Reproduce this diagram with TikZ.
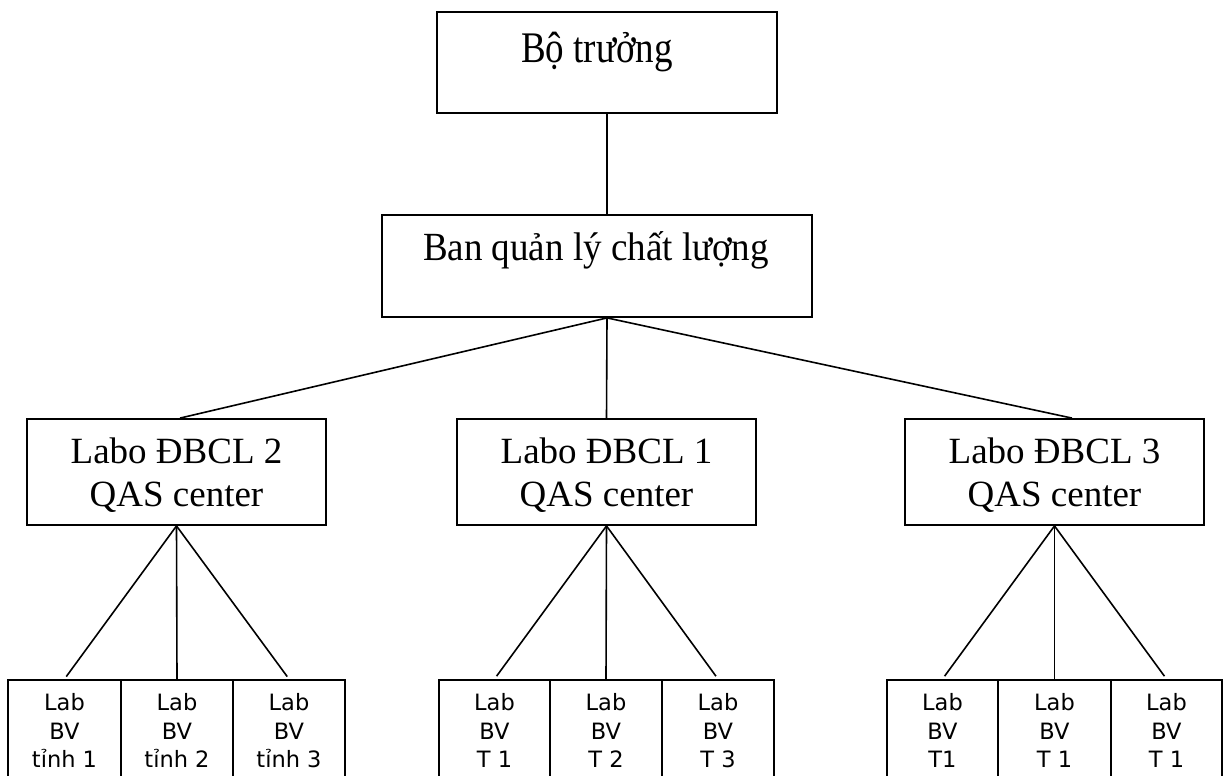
\documentclass[tikz,border=0pt]{standalone}
\usepackage{fontspec}
\usepackage{graphicx}
\setmainfont{Liberation Serif}
\newfontfamily\dvsans{DejaVu Sans}
\begin{document}
\begin{tikzpicture}[x=1pt,y=-1pt,
  line width=1.8pt,
  bigbox/.style={draw, line width=1.8pt, inner sep=0pt},
  smallbox/.style={draw, line width=1.8pt, inner sep=0pt, anchor=north, minimum height=130pt},
  sertext/.style={inner sep=0pt, font=\fontsize{37}{43}\selectfont},
  sertwo/.style={inner sep=0pt, anchor=north, align=center, font=\fontsize{37}{43}\selectfont},
  santext/.style={inner sep=0pt, anchor=north, align=center, font=\dvsans\fontsize{22.5}{28.5}\selectfont},
  link/.style={line width=1.6pt}
]
\useasboundingbox (0,0) rectangle (1223,776);
\clip (0,0) rectangle (1223,776);
\fill[white] (0,0) rectangle (1223,776);

% top levels
\node[bigbox, minimum width=340pt, minimum height=101pt] (bt) at (607,62.5) {};
\node[sertext, anchor=base] (btt) at (597,63) {\scalebox{1}[1.18]{Bộ trưởng}};

\node[bigbox, minimum width=430pt, minimum height=102pt] (bq) at (597,266) {};
\node[sertext, anchor=base] (bqt) at (596,260) {\scalebox{1}[1.08]{Ban quản lý chất lượng}};

% Labo boxes
\node[bigbox, minimum width=299pt, minimum height=106pt] (l2) at (176.5,472) {};
\node[sertwo] (l2t) at (176.5,437) {Labo ĐBCL 2\\QAS center};
\node[bigbox, minimum width=299pt, minimum height=106pt] (l1) at (606.5,472) {};
\node[sertwo] (l1t) at (606.5,437) {Labo ĐBCL 1\\QAS center};
\node[bigbox, minimum width=299pt, minimum height=106pt] (l3) at (1054.5,472) {};
\node[sertwo] (l3t) at (1054.5,437) {Labo ĐBCL 3\\QAS center};

% small boxes group 1
\node[smallbox, minimum width=113pt] (a1) at (64.5,679) {};
\node[smallbox, minimum width=112pt] (a2) at (177,679) {};
\node[smallbox, minimum width=112pt] (a3) at (289,679) {};
\node[santext] (a1t) at (64.5,692.5) {Lab\\BV\\tỉnh 1};
\node[santext] (a2t) at (177,692.5) {Lab\\BV\\tỉnh 2};
\node[santext] (a3t) at (289,692.5) {Lab\\BV\\tỉnh 3};

% small boxes group 2
\node[smallbox, minimum width=111pt] (b1) at (494.5,679) {};
\node[smallbox, minimum width=112pt] (b2) at (606,679) {};
\node[smallbox, minimum width=112pt] (b3) at (718,679) {};
\node[santext] (b1t) at (494.5,692.5) {Lab\\BV\\T 1};
\node[santext] (b2t) at (606,692.5) {Lab\\BV\\T 2};
\node[santext] (b3t) at (718,692.5) {Lab\\BV\\T 3};

% small boxes group 3
\node[smallbox, minimum width=111pt] (c1) at (942.5,679) {};
\node[smallbox, minimum width=113pt] (c2) at (1054.5,679) {};
\node[smallbox, minimum width=111pt] (c3) at (1166.5,679) {};
\node[santext] (c1t) at (942.5,692.5) {Lab\\BV\\T1};
\node[santext] (c2t) at (1054.5,692.5) {Lab\\BV\\T 1};
\node[santext] (c3t) at (1166.5,692.5) {Lab\\BV\\T 1};

% connectors
\draw[link] (bt.south) -- ([xshift=10pt]bq.north);
\draw[link] ([xshift=10pt]bq.south) -- ([xshift=3.5pt]l2.north);
\draw[link] ([xshift=10pt]bq.south) -- (l1.north);
\draw[link] ([xshift=10pt]bq.south) -- ([xshift=17.5pt]l3.north);

\draw[link, shorten >=3pt] (l2.south) -- (a1.north);
\draw[link] (l2.south) -- (a2.north);
\draw[link, shorten >=3pt] (l2.south) -- (a3.north);

\draw[link, shorten >=3.5pt] (l1.south) -- (b1.north);
\draw[link] (l1.south) -- (b2.north);
\draw[link, shorten >=3.5pt] (l1.south) -- (b3.north);

\draw[link, shorten >=3.5pt] (l3.south) -- (c1.north);
\draw[link] (l3.south) -- (c2.north);
\draw[link, shorten >=3.5pt] (l3.south) -- (c3.north);
\end{tikzpicture}
\end{document}
